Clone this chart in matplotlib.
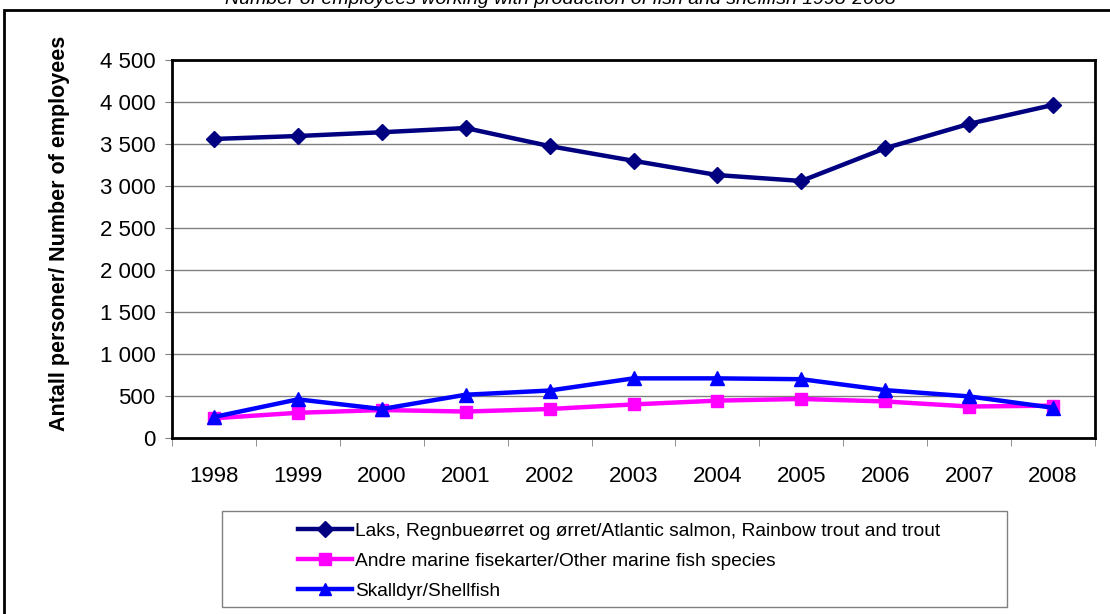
import matplotlib
matplotlib.use("Agg")
import matplotlib.pyplot as plt
from matplotlib.patches import Rectangle
import numpy as np

plt.rcParams["font.family"] = ["Liberation Sans", "DejaVu Sans"]

years = ["1998", "1999", "2000", "2001", "2002", "2003", "2004", "2005", "2006", "2007", "2008"]
laks = [3560, 3595, 3640, 3690, 3475, 3300, 3130, 3060, 3450, 3740, 3965]
andre = [235, 300, 333, 315, 345, 400, 445, 465, 435, 375, 385]
skalldyr = [250, 460, 345, 515, 565, 710, 710, 700, 570, 495, 360]

labels = [
    "Laks, Regnbueørret og ørret/Atlantic salmon, Rainbow trout and trout",
    "Andre marine fisekarter/Other marine fish species",
    "Skalldyr/Shellfish",
]
title = "Number of employees working with production of fish and shellfish 1998-2008"

W, H = 1110, 614
fig = plt.figure(figsize=(W / 100, H / 100), dpi=100)

# outer chart frame (runs off right and bottom edge)
fig.patches.append(Rectangle((4 / W, -0.05), 1.2, 1 - 10 / H + 0.05, transform=fig.transFigure,
                             fill=False, edgecolor="black", lw=2, clip_on=False))

# clipped title at the very top
fig.text(560 / W, 1 - 4 / H, title, ha="center", va="baseline", style="italic", fontsize=14)

ax = fig.add_axes([172 / W, 1 - 438 / H, (1095 - 172) / W, (438 - 60) / H])
x = np.arange(len(years))
ax.plot(x, laks, color="#000080", lw=3.2, marker="D", ms=8.5, label=labels[0], zorder=5)
ax.plot(x, andre, color="#FF00FF", lw=3.2, marker="s", ms=9, label=labels[1], zorder=4)
ax.plot(x, skalldyr, color="#0000FF", lw=3.2, marker="^", ms=9.5, label=labels[2], zorder=6)

ax.set_xlim(-0.5, len(years) - 0.5)
ax.set_ylim(0, 4500)
ax.set_yticks(np.arange(0, 4501, 500))
ax.set_yticklabels([f"{v:,}".replace(",", " ") for v in range(0, 4501, 500)], fontsize=16)
ax.yaxis.grid(True, color="#808080", lw=1)
ax.set_axisbelow(True)

ax.set_xticks(x)
ax.set_xticklabels(years, fontsize=16)
ax.tick_params(axis="x", length=0, pad=20)
ax.set_xticks(np.arange(-0.5, len(years), 1), minor=True)
ax.tick_params(axis="x", which="minor", length=6, color="#808080")
ax.tick_params(axis="y", length=5, color="#808080", pad=7)

for s in ax.spines.values():
    s.set_color("black")
    s.set_linewidth(2)

ax.set_ylabel("Antall personer/ Number of employees", fontsize=15.5, fontweight="bold")
ax.yaxis.set_label_coords((70 - 172) / (1095 - 172), (438 - 233) / (438 - 60))

# legend box drawn separately, entries placed inside it
fig.patches.append(Rectangle((222 / W, 1 - 607 / H), (1007 - 222) / W, (607 - 511) / H,
                             transform=fig.transFigure, fill=False, edgecolor="#808080", lw=1))
leg = fig.legend(loc="upper left", bbox_to_anchor=(284 / W, 1 - 508 / H),
                 fontsize=13.8, frameon=False, handlelength=2.8, handletextpad=0.15,
                 borderpad=0.25, labelspacing=0.65, markerscale=0.9)

fig.savefig("out.png", dpi=100, facecolor="white")
